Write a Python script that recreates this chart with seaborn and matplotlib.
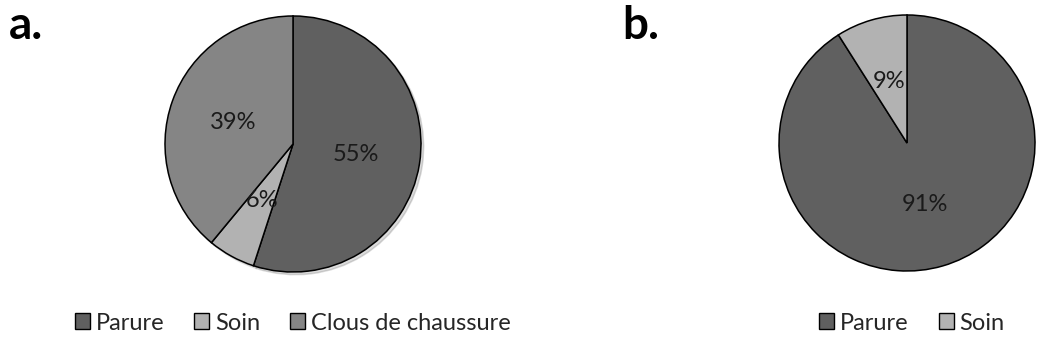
import matplotlib
matplotlib.use("Agg")
import matplotlib.pyplot as plt
from matplotlib.patches import Patch
import seaborn as sns

sns.set_theme(style="white")
plt.rcParams["font.family"] = ["Lato", "DejaVu Sans"]

# Panel a: use categories
cats_a = ["Parure", "Soin", "Clous de chaussure"]
vals_a = [55, 6, 39]
# Panel b
cats_b = ["Parure", "Soin"]
vals_b = [91, 9]

colors = {"Parure": "#606060", "Soin": "#b2b2b2", "Clous de chaussure": "#858585"}

W, H = 1040, 347
fig = plt.figure(figsize=(W / 100, H / 100), dpi=100)


def px_axes(cx, cy, r):
    return fig.add_axes([(cx - r) / W, (H - cy - r) / H, 2 * r / W, 2 * r / H])


def draw_pie(ax, cats, vals, shadow):
    kw = dict(
        colors=[colors[c] for c in cats],
        startangle=90,
        counterclock=False,
        autopct=lambda p: f"{p:.0f}%",
        pctdistance=0.5,
        wedgeprops=dict(edgecolor="black", linewidth=1.1),
        textprops=dict(fontsize=17, color="#1a1a1a"),
    )
    if shadow:
        kw["shadow"] = dict(ox=0.015, oy=-0.015, shade=0.4, alpha=0.18)
    ax.pie(vals, **kw)
    ax.set_xlim(-1, 1)
    ax.set_ylim(-1, 1)
    ax.set_aspect("equal")
    ax.axis("off")


ax_a = px_axes(293, 144, 128)
draw_pie(ax_a, cats_a, vals_a, shadow=True)
ax_b = px_axes(907, 143, 128)
draw_pie(ax_b, cats_b, vals_b, shadow=False)

fig.text(9 / W, 1 - 39 / H, "a.", fontsize=33, fontweight="bold", color="black")
fig.text(622 / W, 1 - 39 / H, "b.", fontsize=33, fontweight="bold", color="black")


def legend(cats, cx):
    handles = [Patch(facecolor=colors[c], edgecolor="black", linewidth=1.0) for c in cats]
    fig.legend(
        handles, cats, loc="center", bbox_to_anchor=(cx / W, 1 - 323 / H),
        ncol=len(cats), frameon=False, fontsize=17,
        handlelength=0.64, handleheight=0.64, handletextpad=0.25,
        columnspacing=1.25, borderpad=0,
    )


legend(cats_a, 293)
legend(cats_b, 912)

fig.savefig("out.png", dpi=100, facecolor="white")
